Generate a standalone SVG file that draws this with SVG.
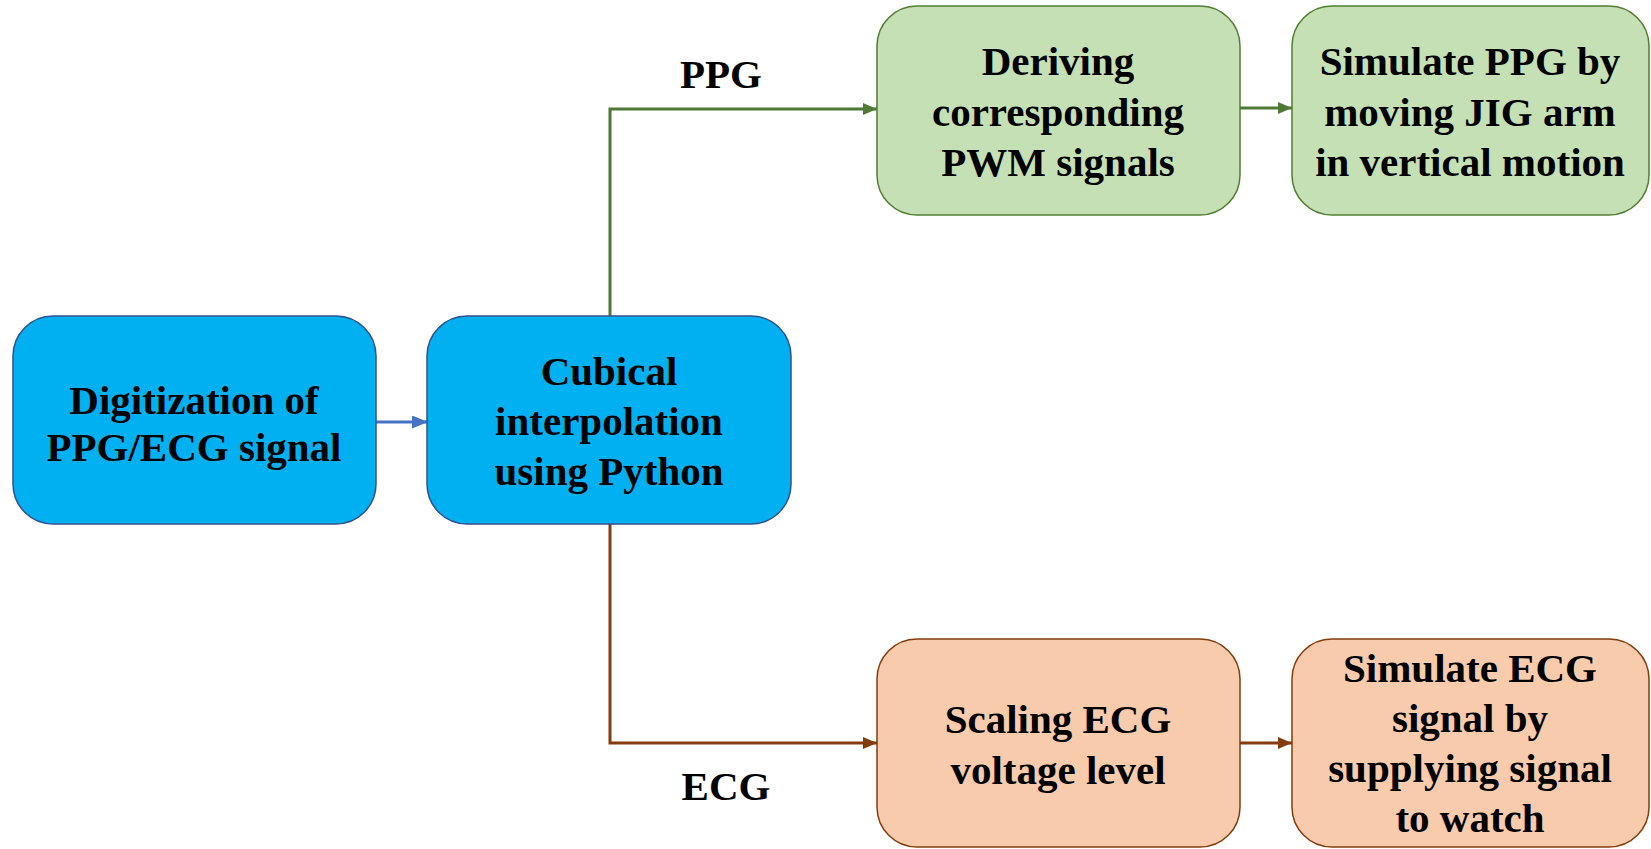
<svg xmlns="http://www.w3.org/2000/svg" width="1651" height="849" viewBox="0 0 1651 849">
<style>
.t{font-family:"Liberation Serif","Times New Roman",serif;font-weight:bold;font-size:41px;fill:#000;text-anchor:middle}
.blue{fill:#00B0F0;stroke:#2F528F;stroke-width:1.5}
.green{fill:#C5E0B4;stroke:#507E32;stroke-width:1.5}
.orange{fill:#F8CBAD;stroke:#843C0C;stroke-width:1.5}
.c{fill:none;stroke-width:3}
</style>
<defs>
<marker id="ab" markerWidth="16" markerHeight="13" refX="15" refY="6.5" orient="auto" markerUnits="userSpaceOnUse"><path d="M0,0 L16,6.5 L0,13 z" fill="#4472C4"/></marker>
<marker id="ag" markerWidth="14" markerHeight="12" refX="14" refY="6" orient="auto" markerUnits="userSpaceOnUse"><path d="M0,0 L14,6 L0,12 z" fill="#4E7A35"/></marker>
<marker id="ao" markerWidth="14" markerHeight="12" refX="14" refY="6" orient="auto" markerUnits="userSpaceOnUse"><path d="M0,0 L14,6 L0,12 z" fill="#843C0C"/></marker>
</defs>
<g id="connectors">
<path class="c" d="M376,422 L427,422" stroke="#4472C4" stroke-width="4" marker-end="url(#ab)"/>
<path class="c" d="M610,316 L610,109 L877,109" stroke="#4E7A35" marker-end="url(#ag)"/>
<path class="c" d="M1240,108 L1292,108" stroke="#4E7A35" marker-end="url(#ag)"/>
<path class="c" d="M610,524 L610,743 L877,743" stroke="#843C0C" marker-end="url(#ao)"/>
<path class="c" d="M1240,743 L1292,743" stroke="#843C0C" marker-end="url(#ao)"/>
<text class="t" x="721" y="88">PPG</text>
<text class="t" x="726" y="800">ECG</text>
</g>
<g id="digitization">
<rect class="blue" x="13" y="316" width="363" height="208" rx="40"/>
<text class="t" x="194" y="414">Digitization of</text>
<text class="t" x="194" y="461">PPG/ECG signal</text>
</g>
<g id="interpolation">
<rect class="blue" x="427" y="316" width="364" height="208" rx="40"/>
<text class="t" x="609" y="385">Cubical</text>
<text class="t" x="609" y="435">interpolation</text>
<text class="t" x="609" y="485">using Python</text>
</g>
<g id="pwm">
<rect class="green" x="877" y="6" width="363" height="209" rx="40"/>
<text class="t" x="1058" y="75">Deriving</text>
<text class="t" x="1058" y="126">corresponding</text>
<text class="t" x="1058" y="176">PWM signals</text>
</g>
<g id="simppg">
<rect class="green" x="1292" y="6" width="357" height="209" rx="40"/>
<text class="t" x="1470" y="75">Simulate PPG by</text>
<text class="t" x="1470" y="126">moving JIG arm</text>
<text class="t" x="1470" y="176">in vertical motion</text>
</g>
<g id="scaling">
<rect class="orange" x="877" y="639" width="363" height="208" rx="40"/>
<text class="t" x="1058" y="733">Scaling ECG</text>
<text class="t" x="1058" y="784">voltage level</text>
</g>
<g id="simecg">
<rect class="orange" x="1292" y="639" width="357" height="208" rx="40"/>
<text class="t" x="1470" y="682">Simulate ECG</text>
<text class="t" x="1470" y="732">signal by</text>
<text class="t" x="1470" y="782">supplying signal</text>
<text class="t" x="1470" y="832">to watch</text>
</g>
</svg>
